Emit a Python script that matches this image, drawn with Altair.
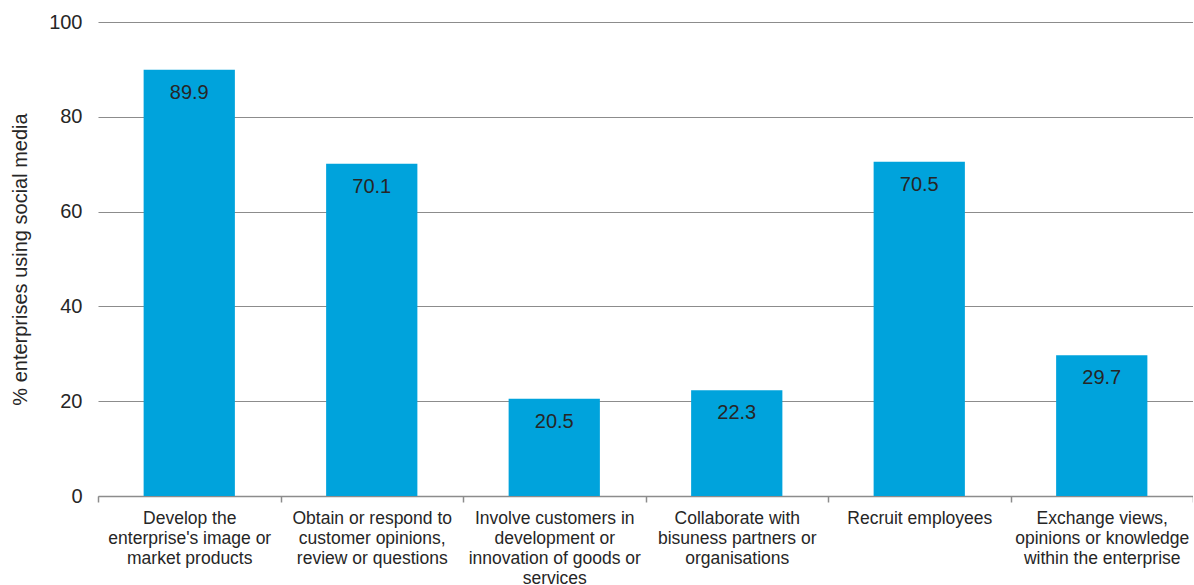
import altair as alt
import pandas as pd

categories = [
    "Develop the|enterprise's image or|market products",
    "Obtain or respond to|customer opinions,|review or questions",
    "Involve customers in|development or|innovation of goods or|services",
    "Collaborate with|bisuness partners or|organisations",
    "Recruit employees",
    "Exchange views,|opinions or knowledge|within the enterprise",
]
values = [89.9, 70.1, 20.5, 22.3, 70.5, 29.7]

df = pd.DataFrame({"cat": categories, "val": values})
df["lbl"] = df["val"].map(lambda v: f"{v:.1f}")

FONT = "Liberation Sans"
BAR = "#00a3dc"
TXT = "#262626"
GRID = "#8c8c8c"

x = alt.X(
    "cat:N",
    sort=categories,
    title=None,
    scale=alt.Scale(paddingInner=0, paddingOuter=0),
    axis=alt.Axis(
        labelExpr="split(datum.label, '|')",
        labelAngle=0,
        labelFont=FONT,
        labelFontSize=17.5,
        labelColor=TXT,
        labelLineHeight=20,
        labelPadding=7,
        labelLimit=300,
        tickBand="extent",
        tickSize=6,
        tickColor=GRID,
        domainColor=GRID,
        domainWidth=1.5,
        tickWidth=1.5,
        grid=False,
    ),
)

y = alt.Y(
    "val:Q",
    title="% enterprises using social media",
    scale=alt.Scale(domain=[0, 100]),
    axis=alt.Axis(
        values=[0, 20, 40, 60, 80, 100],
        labelFont=FONT,
        labelFontSize=20,
        labelColor=TXT,
        labelPadding=16,
        ticks=False,
        domain=False,
        gridColor=GRID,
        gridWidth=1.2,
        titleFont=FONT,
        titleFontSize=20,
        titleFontWeight="normal",
        titleColor=TXT,
        titlePadding=18,
    ),
)

base = alt.Chart(df).encode(x=x, y=y)
bars = base.mark_bar(color=BAR, width=alt.RelativeBandSize(0.5))
text = base.mark_text(
    baseline="top", dy=13, font=FONT, fontSize=20, color=TXT
).encode(text="lbl:N")

chart = (
    (bars + text)
    .properties(
        width=1095,
        height=474,
        autosize=alt.AutoSizeParams(type="none"),
        padding={"left": 98, "top": 22, "right": 0, "bottom": 89},
    )
    .configure_view(stroke=None)
)

chart.save("out.html", embed_options={"renderer": "svg", "actions": False})
